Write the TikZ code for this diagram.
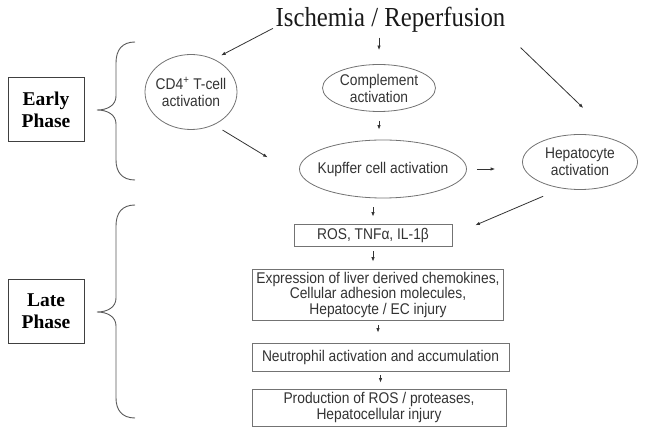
\documentclass[tikz,border=0pt]{standalone}
\usepackage{fontspec}
\setmainfont[FakeStretch=0.89]{Liberation Sans}
\newfontfamily\seriffont{Liberation Serif}
\newfontfamily\titlefont[FakeStretch=0.9]{Liberation Serif}
\usetikzlibrary{positioning,shapes,arrows.meta,calc}

\begin{document}
\begin{tikzpicture}[x=1pt, y=-1pt,
		oval/.style={ellipse, draw=black!55, line width=0.8pt, inner xsep=-7pt, inner ysep=0pt, align=center, text=black!80, font=\fontsize{15.5}{17}\selectfont},
		stepbox/.style={rectangle, draw=black!55, line width=0.8pt, inner sep=0pt, align=center, text=black!80, font=\fontsize{15.5}{15.5}\selectfont},
		phasebox/.style={rectangle, draw=black!75, line width=1pt, minimum width=76pt, minimum height=64pt, align=center, font=\seriffont\bfseries\fontsize{19.5}{22}\selectfont},
		arr/.style={-{Latex[length=4.5pt,width=3.5pt]}, draw=black!80, line width=0.8pt},
		curly/.style={draw=black!65, line width=0.9pt}]
			\useasboundingbox (0,0) rectangle (645,435);
			% trigger
			\node [anchor=base, inner sep=0pt, text=black!90, font=\titlefont\fontsize{27.5}{30}\selectfont] (title) at (390.5,27) {Ischemia / Reperfusion};
			% early phase
			\node [oval, minimum width=92pt, minimum height=75pt] (cd4) at (191,92) {CD4\textsuperscript{+} T-cell\\activation};
			\node [oval, minimum width=113pt, minimum height=47pt] (comp) at (379,88) {Complement\\activation};
			\node [oval, minimum width=167pt, minimum height=58pt] (kup) at (383,169) {Kupffer cell activation};
			\node [oval, minimum width=115pt, minimum height=55pt] (hep) at (580,162) {Hepatocyte\\activation};
			% late phase
			\node [stepbox, minimum width=158pt, minimum height=22pt] (ros) at (373,235) {ROS, TNFα, IL-1β};
			\node [stepbox, minimum width=251pt, minimum height=51pt] (expr) at (378,294.5) {Expression of liver derived chemokines,\\Cellular adhesion molecules,\\Hepatocyte / EC injury};
			\node [stepbox, minimum width=257pt, minimum height=28pt] (neut) at (380.5,357) {Neutrophil activation and accumulation};
			\node [stepbox, minimum width=254pt, minimum height=37pt] (prod) at (379,407.5) {Production of ROS / proteases,\\Hepatocellular injury};
			% phase labels
			\node [phasebox] (early) at (46,110) {Early\\Phase};
			\node [phasebox] (late) at (46,311.5) {Late\\Phase};
			\draw [curly] (135,42) .. controls (122,42) and (116,50) .. (116,63) -- (116,96) .. controls (116,105) and (108,110) .. (97,110) .. controls (108,110) and (116,115) .. (116,124) -- (116,160) .. controls (116,172) and (122,180) .. (135,180);
			\draw [curly] (135,205) .. controls (122,205) and (116,213) .. (116,226) -- (116,298) .. controls (116,307) and (108,312) .. (97,312) .. controls (108,312) and (116,317) .. (116,326) -- (116,398) .. controls (116,410) and (122,418) .. (135,418);
			% arrows
			\draw [arr, shorten <=3pt, shorten >=8pt] (title.base west) -- (cd4.55);
			\draw [arr, shorten <=4.6pt, shorten >=14pt] (comp.north |- title.south) -- (comp.north);
			\draw [arr, shorten <=21pt, shorten >=47pt] (title.south east) -- (hep.30);
			\draw [arr, shorten <=10pt, shorten >=57pt] (cd4.-55) -- (kup.195);
			\draw [arr, shorten <=9pt, shorten >=10pt] (comp.south) -- (comp.south |- kup.north);
			\draw [arr, shorten <=10pt, shorten >=27pt] (kup.east) -- (kup.east -| hep.west);
			\draw [arr, shorten <=20pt, shorten >=25pt] (hep.235) -- (ros.east);
			\draw [arr, shorten <=9pt, shorten >=7pt] (ros.north |- kup.south) -- (ros.north);
			\draw [arr, shorten <=5pt, shorten >=7pt] (ros.south) -- (ros.south |- expr.north);
			\draw [arr, shorten <=5pt, shorten >=10pt] (expr.south) -- (expr.south |- neut.north);
			\draw [arr, shorten <=4pt, shorten >=6pt] (neut.south) -- (neut.south |- prod.north);
		\end{tikzpicture}
\end{document}
